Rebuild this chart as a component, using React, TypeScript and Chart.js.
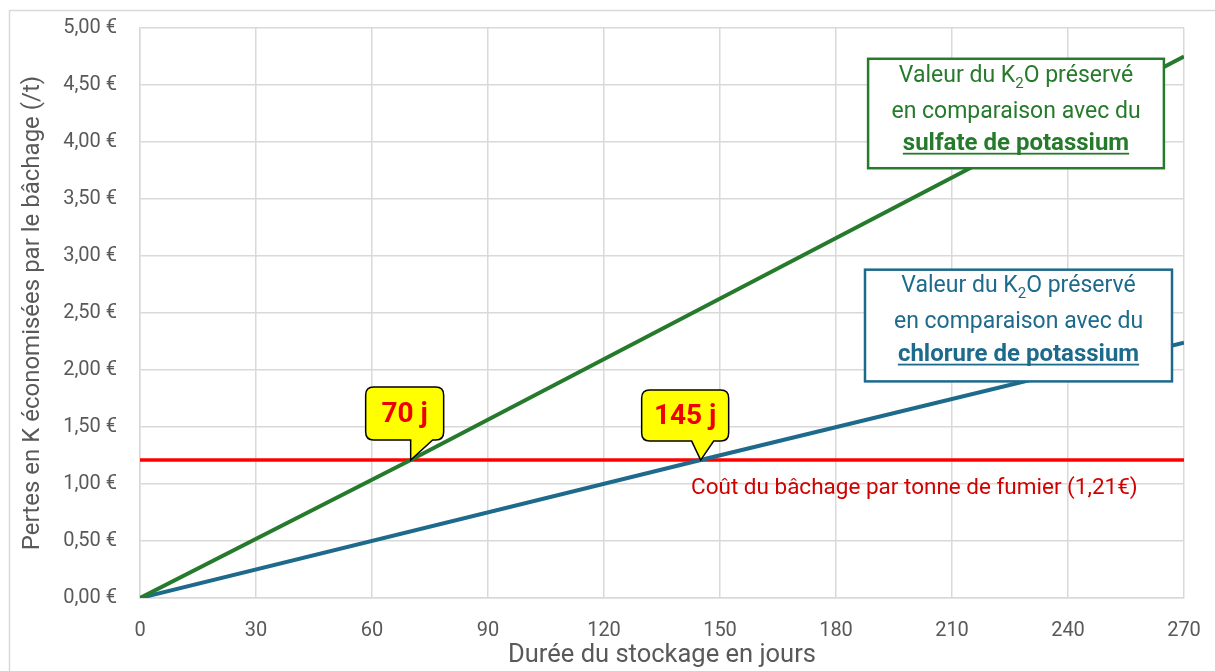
import React, { useEffect, useRef } from "react";
import { Chart, registerables } from "chart.js";

Chart.register(...registerables);

// ---- data ----
const sulfateDays = [0, 70, 270];
const sulfateValues = [0, 1.21, 4.75];
const chlorureDays = [0, 145, 270];
const chlorureValues = [0, 1.21, 2.24];
const costDays = [0, 270];
const costValues = [1.21, 1.21];
const crossDays = [70, 145];
const crossLabels = ["70 j", "145 j"];
const costLabel = "Coût du bâchage par tonne de fumier (1,21€)";
const xTitle = "Durée du stockage en jours";
const yTitle = "Pertes en K économisées par le bâchage (/t)";

const GREEN = "#267A2C";
const BLUE = "#1D6A8C";
const RED = "#FF0000";
const FONT = "Roboto";

function drawInfoBox(ctx: CanvasRenderingContext2D, l: number, t: number, r: number, b: number, color: string, boldText: string) {
  ctx.save();
  ctx.fillStyle = "#ffffff";
  ctx.fillRect(l, t, r - l, b - t);
  ctx.lineWidth = 2.5;
  ctx.strokeStyle = color;
  ctx.strokeRect(l, t, r - l, b - t);
  const cx = (l + r) / 2;
  ctx.fillStyle = color;
  ctx.textBaseline = "middle";
  const f1 = `23px ${FONT}`;
  const fs = `15px ${FONT}`;
  ctx.font = f1;
  const a = "Valeur du K";
  const c = "O préservé";
  const wa = ctx.measureText(a).width;
  const wc = ctx.measureText(c).width;
  ctx.font = fs;
  const wb = ctx.measureText("2").width;
  let x = cx - (wa + wb + wc) / 2;
  const y1 = t + 17;
  ctx.textAlign = "left";
  ctx.font = f1;
  ctx.fillText(a, x, y1);
  x += wa;
  ctx.font = fs;
  ctx.fillText("2", x, y1 + 8);
  x += wb;
  ctx.font = f1;
  ctx.fillText(c, x, y1);
  ctx.textAlign = "center";
  ctx.fillText("en comparaison avec du", cx, t + 53);
  ctx.font = `bold 24px ${FONT}`;
  ctx.fillText(boldText, cx, t + 85);
  const w3 = ctx.measureText(boldText).width;
  ctx.fillRect(cx - w3 / 2, t + 85 + 9, w3, 1.8);
  ctx.restore();
}

function drawCallout(ctx: CanvasRenderingContext2D, ax: number, ay: number, l: number, t: number, r: number, b: number, tl: number, tr: number, text: string) {
  const rad = 8;
  ctx.save();
  ctx.beginPath();
  ctx.moveTo(l + rad, t);
  ctx.lineTo(r - rad, t);
  ctx.quadraticCurveTo(r, t, r, t + rad);
  ctx.lineTo(r, b - rad);
  ctx.quadraticCurveTo(r, b, r - rad, b);
  ctx.lineTo(tr, b);
  ctx.lineTo(ax, ay);
  ctx.lineTo(tl, b);
  ctx.lineTo(l + rad, b);
  ctx.quadraticCurveTo(l, b, l, b - rad);
  ctx.lineTo(l, t + rad);
  ctx.quadraticCurveTo(l, t, l + rad, t);
  ctx.closePath();
  ctx.fillStyle = "#FFFF00";
  ctx.fill();
  ctx.lineWidth = 1.5;
  ctx.strokeStyle = "#000000";
  ctx.stroke();
  ctx.fillStyle = "#EE0000";
  ctx.font = `bold 28px ${FONT}`;
  ctx.textAlign = "center";
  ctx.textBaseline = "middle";
  ctx.fillText(text, (l + r) / 2, (t + b) / 2 + 1);
  ctx.restore();
}

const framePlugin = {
  id: "frame",
  beforeDraw(chart: any) {
    const ctx = chart.ctx as CanvasRenderingContext2D;
    ctx.save();
    ctx.fillStyle = "#ffffff";
    ctx.fillRect(0, 0, chart.width, chart.height);
    ctx.strokeStyle = "#D9D9D9";
    ctx.lineWidth = 1.5;
    ctx.beginPath();
    ctx.moveTo(9.5, chart.height);
    ctx.lineTo(9.5, 10.5);
    ctx.lineTo(chart.width, 10.5);
    ctx.stroke();
    ctx.restore();
  },
};

const annotPlugin = {
  id: "annot",
  afterDatasetsDraw(chart: any) {
    const ctx = chart.ctx as CanvasRenderingContext2D;
    const xs = chart.scales.x;
    const ys = chart.scales.y;
    ctx.save();
    ctx.fillStyle = "#D00000";
    ctx.font = `22.5px ${FONT}`;
    ctx.textAlign = "left";
    ctx.textBaseline = "middle";
    ctx.fillText(costLabel, xs.getPixelForValue(142.5), ys.getPixelForValue(costValues[0]) + 28);
    ctx.restore();
    const ay = ys.getPixelForValue(costValues[0]);
    const a0 = xs.getPixelForValue(crossDays[0]);
    drawCallout(ctx, a0, ay, a0 - 45, ay - 73, a0 + 33, ay - 20, a0, a0 + 22, crossLabels[0]);
    const a1 = xs.getPixelForValue(crossDays[1]);
    drawCallout(ctx, a1, ay, a1 - 59, ay - 70, a1 + 28, ay - 19, a1 - 9, a1 + 13, crossLabels[1]);
    drawInfoBox(ctx, xs.getPixelForValue(188.3), ys.getPixelForValue(4.73), xs.getPixelForValue(264.8), ys.getPixelForValue(3.77), GREEN, "sulfate de potassium");
    drawInfoBox(ctx, xs.getPixelForValue(187.5), ys.getPixelForValue(2.88), xs.getPixelForValue(266.9), ys.getPixelForValue(1.9), BLUE, "chlorure de potassium");
  },
};

const toPts = (xs: number[], ys: number[]) => xs.map((x, i) => ({ x, y: ys[i] }));

const zeroPad = (s: any) => {
  s.paddingLeft = 0;
  s.paddingRight = 0;
  s.paddingTop = 0;
  s.paddingBottom = 0;
};

export default function App() {
  const ref = useRef<HTMLCanvasElement>(null);
  useEffect(() => {
    const chart = new Chart(ref.current!, {
      type: "line",
      data: {
        datasets: [
          { label: "sulfate", data: toPts(sulfateDays, sulfateValues), borderColor: GREEN, borderWidth: 4, pointRadius: 0, fill: false },
          { label: "chlorure", data: toPts(chlorureDays, chlorureValues), borderColor: BLUE, borderWidth: 4, pointRadius: 0, fill: false },
          { label: "cost", data: toPts(costDays, costValues), borderColor: RED, borderWidth: 3.5, pointRadius: 0, fill: false },
        ],
      },
      options: {
        animation: false,
        responsive: false,
        layout: { padding: { top: 28, right: 31, left: 0, bottom: 0 } },
        plugins: { legend: { display: false }, tooltip: { enabled: false } },
        scales: {
          x: {
            type: "linear",
            min: 0,
            max: 270,
            ticks: { stepSize: 30, color: "#595959", font: { family: FONT, size: 20 }, padding: 21, maxRotation: 0 },
            grid: { color: "#D9D9D9", drawTicks: false, lineWidth: 1.5 },
            border: { color: "#D9D9D9", width: 1.5 },
            title: { display: true, text: xTitle, color: "#595959", font: { family: FONT, size: 25.5 }, padding: { top: 0, bottom: 0 } },
            afterFit: (s: any) => { s.height = 73; zeroPad(s); },
          },
          y: {
            min: 0,
            max: 5,
            ticks: {
              stepSize: 0.5,
              color: "#595959",
              font: { family: FONT, size: 20 },
              padding: 23,
              callback: (v: any) => Number(v).toFixed(2).replace(".", ",") + " €",
            },
            grid: { color: "#D9D9D9", drawTicks: false, lineWidth: 1.5 },
            border: { color: "#D9D9D9", width: 1.5 },
            title: { display: true, text: yTitle, color: "#595959", font: { family: FONT, size: 24 }, padding: { top: 19, bottom: 0 } },
            afterFit: (s: any) => { s.width = 140; zeroPad(s); },
          },
        },
      },
      plugins: [framePlugin, annotPlugin],
    } as any);
    return () => chart.destroy();
  }, []);
  return (
    <div style={{ position: "absolute", left: 0, top: 0, width: 1215, height: 671 }}>
      <canvas ref={ref} width={1215} height={671} style={{ display: "block" }} />
    </div>
  );
}
